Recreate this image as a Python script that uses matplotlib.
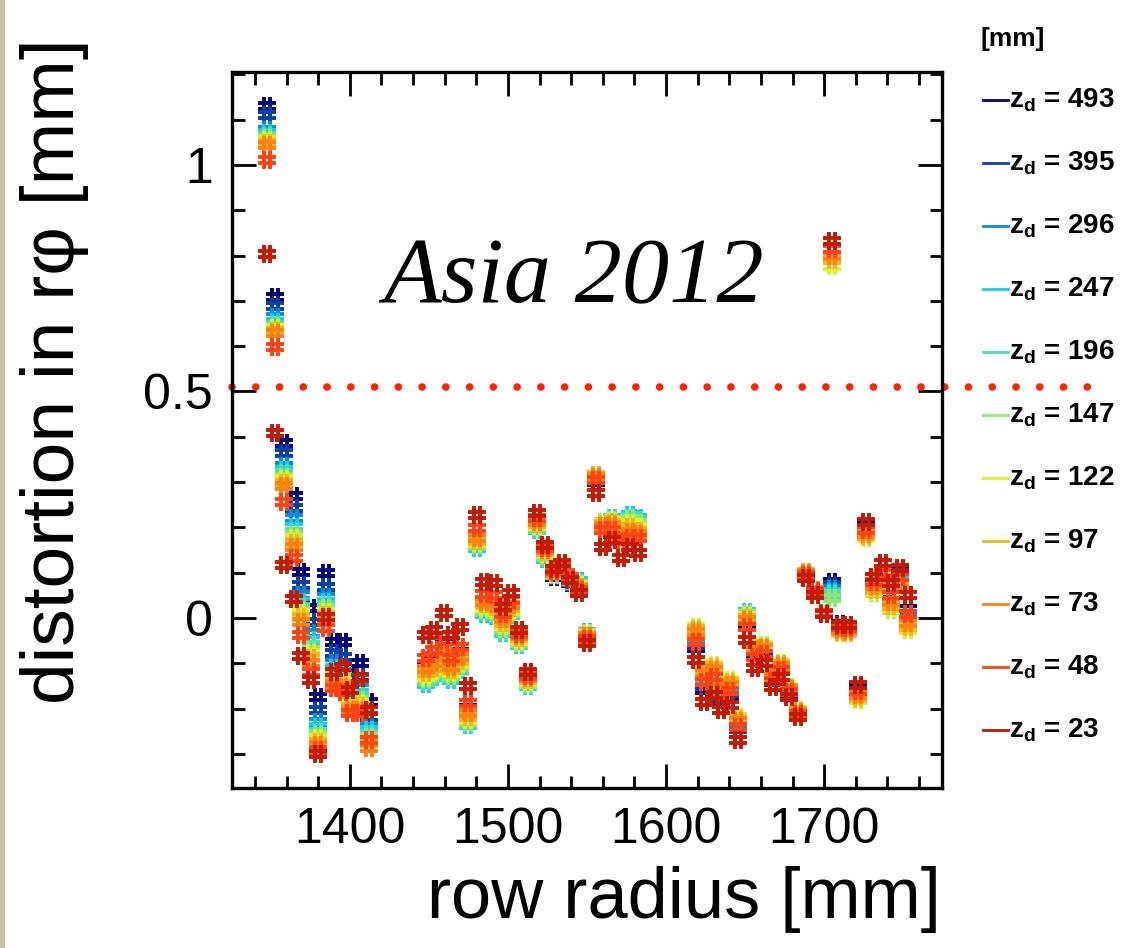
import numpy as np
import matplotlib
matplotlib.use('Agg')
import matplotlib.pyplot as plt
from matplotlib.path import Path
from matplotlib.lines import Line2D
from matplotlib.patches import Rectangle
from matplotlib.ticker import MultipleLocator, FuncFormatter

plt.rcParams['font.family'] = ['Liberation Sans', 'DejaVu Sans']
plt.rcParams['mathtext.fontset'] = 'custom'
plt.rcParams['mathtext.rm'] = 'Liberation Sans'
plt.rcParams['mathtext.bf'] = 'Liberation Sans:bold'
plt.rcParams['mathtext.it'] = 'Liberation Sans:italic'

# pad row radius [mm]
row_radius = [1347.5, 1352.5, 1358.2, 1364.4, 1369.0, 1375.3, 1379.6, 1384.8, 1390.0, 1396.0, 1400.2, 1406.5, 1412.2,
              1448.0, 1453.4, 1459.3, 1463.9, 1469.8, 1475.0, 1480.4, 1485.0, 1491.0, 1496.6, 1502.0, 1507.0, 1512.5,
              1518.4, 1523.4, 1529.0, 1534.0, 1539.5, 1545.0, 1550.0, 1555.7, 1560.0, 1566.0, 1571.5, 1577.0, 1582.5,
              1619.0, 1624.2, 1630.0, 1635.0, 1640.7, 1645.8, 1651.3, 1656.3, 1662.2, 1667.5, 1672.8, 1678.0, 1683.4,
              1688.6, 1693.9, 1699.8, 1704.9, 1709.7, 1715.0, 1721.3, 1726.6, 1731.8, 1737.1, 1742.4, 1747.7, 1753.0]

# distortion in r-phi [mm] for each drift distance z_d
dz493 = [1.130, 0.709, 0.387, 0.269, 0.102, 0.023, -0.174, 0.100, -0.052, -0.052, -0.122, -0.100, -0.185,
         -0.104, -0.090, -0.052, -0.096, -0.074, -0.199, 0.168, 0.030, 0.025, -0.018, 0.018, -0.045, -0.135,
         0.205, 0.140, 0.090, 0.100, 0.078, 0.075, -0.045, 0.300, 0.205, 0.212, 0.185, 0.220, 0.212,
         -0.067, -0.159, -0.150, -0.188, -0.174, -0.255, -0.012, -0.080, -0.075, -0.142, -0.115, -0.165, -0.212,
         0.095, 0.058, 0.012, 0.080, -0.012, -0.020, -0.155, 0.205, 0.065, 0.085, 0.040, 0.108, 0.020]
dz395 = [1.110, 0.689, 0.365, 0.243, 0.073, -0.008, -0.203, 0.069, -0.078, -0.085, -0.144, -0.129, -0.218,
         -0.125, -0.110, -0.070, -0.112, -0.090, -0.215, 0.162, 0.022, 0.018, -0.025, 0.012, -0.052, -0.142,
         0.200, 0.136, 0.092, 0.102, 0.079, 0.078, -0.040, 0.302, 0.208, 0.215, 0.188, 0.224, 0.216,
         -0.060, -0.150, -0.140, -0.178, -0.165, -0.245, -0.005, -0.075, -0.070, -0.138, -0.110, -0.162, -0.210,
         0.097, 0.059, 0.012, 0.072, -0.018, -0.024, -0.160, 0.198, 0.062, 0.080, 0.033, 0.100, 0.010]
dz296 = [1.077, 0.664, 0.336, 0.221, 0.051, -0.033, -0.229, 0.047, -0.100, -0.107, -0.165, -0.155, -0.240,
         -0.140, -0.125, -0.090, -0.128, -0.105, -0.230, 0.157, 0.015, 0.010, -0.030, 0.008, -0.058, -0.148,
         0.196, 0.132, 0.094, 0.104, 0.080, 0.080, -0.034, 0.305, 0.210, 0.218, 0.190, 0.227, 0.220,
         -0.050, -0.140, -0.130, -0.168, -0.157, -0.235, 0.005, -0.070, -0.066, -0.135, -0.106, -0.158, -0.207,
         0.099, 0.060, 0.012, 0.065, -0.024, -0.028, -0.166, 0.192, 0.059, 0.077, 0.027, 0.090, 0.000]
dz247 = [1.070, 0.653, 0.327, 0.202, 0.036, -0.049, -0.240, 0.036, -0.110, -0.118, -0.172, -0.165, -0.248,
         -0.145, -0.130, -0.098, -0.137, -0.115, -0.236, 0.155, 0.010, 0.005, -0.032, 0.006, -0.060, -0.150,
         0.195, 0.130, 0.095, 0.105, 0.081, 0.082, -0.030, 0.308, 0.212, 0.220, 0.191, 0.227, 0.220,
         -0.042, -0.132, -0.122, -0.160, -0.150, -0.228, 0.014, -0.066, -0.063, -0.133, -0.103, -0.155, -0.205,
         0.100, 0.061, 0.012, 0.058, -0.028, -0.031, -0.171, 0.187, 0.057, 0.075, 0.022, 0.082, -0.010]
dz196 = [1.064, 0.647, 0.320, 0.191, 0.025, -0.060, -0.251, 0.029, -0.118, -0.127, -0.178, -0.173, -0.255,
         -0.140, -0.127, -0.095, -0.133, -0.112, -0.233, 0.158, 0.013, 0.008, -0.030, 0.008, -0.058, -0.148,
         0.197, 0.133, 0.096, 0.106, 0.082, 0.078, -0.032, 0.310, 0.213, 0.219, 0.190, 0.224, 0.216,
         -0.035, -0.125, -0.115, -0.153, -0.145, -0.222, 0.012, -0.064, -0.061, -0.131, -0.101, -0.153, -0.204,
         0.101, 0.062, 0.012, 0.052, -0.031, -0.033, -0.176, 0.183, 0.055, 0.074, 0.019, 0.076, -0.018]
dz147 = [1.060, 0.642, 0.312, 0.183, 0.018, -0.071, -0.258, 0.022, -0.125, -0.133, -0.184, -0.180, -0.262,
         -0.135, -0.122, -0.090, -0.128, -0.108, -0.229, 0.162, 0.017, 0.012, -0.025, 0.012, -0.055, -0.145,
         0.200, 0.137, 0.097, 0.107, 0.083, 0.075, -0.034, 0.312, 0.212, 0.217, 0.188, 0.218, 0.210,
         -0.030, -0.118, -0.108, -0.148, -0.140, -0.219, 0.008, -0.063, -0.060, -0.130, -0.100, -0.152, -0.203,
         0.102, 0.063, 0.012, 0.045, -0.033, -0.034, -0.180, 0.179, 0.055, 0.074, 0.018, 0.071, -0.024]
dz122 = [1.055, 0.640, 0.307, 0.176, 0.011, -0.078, -0.265, 0.014, -0.131, -0.139, -0.190, -0.187, -0.268,
         -0.130, -0.117, -0.085, -0.122, -0.102, -0.224, 0.166, 0.022, 0.018, -0.018, 0.016, -0.050, -0.141,
         0.204, 0.141, 0.098, 0.108, 0.084, 0.072, -0.036, 0.314, 0.210, 0.214, 0.185, 0.210, 0.202,
         -0.020, -0.111, -0.104, -0.144, -0.137, -0.218, 0.004, -0.063, -0.060, -0.128, -0.100, -0.152, -0.203,
         0.102, 0.063, 0.012, 0.778, -0.033, -0.034, -0.181, 0.176, 0.057, 0.076, 0.020, 0.069, -0.026]
dz97 = [1.049, 0.634, 0.299, 0.165, 0.002, -0.089, -0.273, 0.007, -0.138, -0.146, -0.197, -0.195, -0.275,
        -0.122, -0.110, -0.078, -0.115, -0.095, -0.218, 0.171, 0.030, 0.025, -0.010, 0.022, -0.045, -0.137,
        0.208, 0.146, 0.099, 0.110, 0.085, 0.069, -0.038, 0.316, 0.207, 0.210, 0.182, 0.200, 0.193,
        -0.024, -0.115, -0.108, -0.148, -0.140, -0.222, 0.000, -0.066, -0.063, -0.128, -0.102, -0.154, -0.205,
        0.101, 0.063, 0.012, 0.790, -0.030, -0.032, -0.177, 0.180, 0.062, 0.080, 0.026, 0.072, -0.020]
dz73 = [1.044, 0.629, 0.291, 0.157, -0.008, -0.100, -0.280, 0.000, -0.145, -0.152, -0.203, -0.203, -0.287,
        -0.112, -0.100, -0.068, -0.107, -0.085, -0.210, 0.176, 0.036, 0.032, -0.002, 0.028, -0.040, -0.133,
        0.212, 0.150, 0.100, 0.112, 0.087, 0.066, -0.040, 0.312, 0.203, 0.205, 0.178, 0.190, 0.185,
        -0.030, -0.122, -0.115, -0.155, -0.147, -0.228, -0.004, -0.070, -0.067, -0.130, -0.105, -0.157, -0.207,
        0.099, 0.062, 0.012, 0.800, -0.026, -0.028, -0.170, 0.186, 0.070, 0.088, 0.035, 0.078, -0.010]
dz48 = [1.011, 0.598, 0.257, 0.132, -0.038, -0.118, -0.291, -0.022, -0.155, -0.163, -0.210, -0.210, -0.270,
        -0.089, -0.071, -0.050, -0.089, -0.063, -0.188, 0.198, 0.054, 0.050, 0.008, 0.040, -0.035, -0.128,
        0.220, 0.155, 0.104, 0.116, 0.090, 0.062, -0.046, 0.305, 0.195, 0.194, 0.170, 0.176, 0.176,
        -0.052, -0.140, -0.130, -0.170, -0.160, -0.240, -0.020, -0.085, -0.080, -0.138, -0.115, -0.163, -0.211,
        0.095, 0.060, 0.011, 0.815, -0.020, -0.022, -0.160, 0.195, 0.080, 0.100, 0.050, 0.090, 0.010]
dz23 = [0.803, 0.408, 0.117, 0.041, -0.084, -0.137, -0.300, 0.003, -0.118, -0.107, -0.159, -0.133, -0.203,
        -0.037, -0.026, 0.012, -0.037, -0.019, -0.150, 0.227, 0.080, 0.078, 0.025, 0.055, -0.026, -0.118,
        0.231, 0.161, 0.108, 0.121, 0.085, 0.055, -0.056, 0.275, 0.157, 0.172, 0.132, 0.157, 0.143,
        -0.093, -0.185, -0.170, -0.203, -0.192, -0.269, -0.049, -0.111, -0.100, -0.152, -0.130, -0.174, -0.218,
        0.088, 0.051, 0.010, 0.833, -0.015, -0.015, -0.148, 0.213, 0.091, 0.121, 0.077, 0.110, 0.051]

zd_values = [493, 395, 296, 247, 196, 147, 122, 97, 73, 48, 23]
series = [dz493, dz395, dz296, dz247, dz196, dz147, dz122, dz97, dz73, dz48, dz23]
colors = ['#00007f', '#0c3fa3', '#0a8ad8', '#1ec8f0', '#44e0b8', '#8ce874',
          '#e0f024', '#f0b41c', '#ff8010', '#ff4212', '#c41a00']

limit = 0.51  # dotted reference level

fig = plt.figure(figsize=(11.43, 9.48), dpi=100)
fig.patches.append(Rectangle((0, 0), 4 / 1143, 1, transform=fig.transFigure,
                             color='#cabfa4', zorder=0))

ax = fig.add_axes([232 / 1143, 1 - 788 / 948, 710 / 1143, 716 / 948])

# hash shaped marker like the ROOT one
hash_marker = Path([(-1, 0.36), (1, 0.36), (-1, -0.36), (1, -0.36),
                    (-0.36, 1), (-0.36, -1), (0.36, 1), (0.36, -1)],
                   [Path.MOVETO, Path.LINETO] * 4)

for vals, col in zip(series, colors):
    ax.plot(row_radius, vals, linestyle='none', marker=hash_marker,
            markersize=12.5, markeredgewidth=2.8, color=col, zorder=3)

ax.plot([0, 1.21], [limit, limit], transform=ax.get_yaxis_transform(),
        clip_on=False, color='#ff2400', linewidth=5.5,
        linestyle=(0, (0.01, 3.1)), dash_capstyle='round', zorder=2)

ax.set_xlim(1325.5, 1774.5)
ax.set_ylim(-0.375, 1.205)
ax.xaxis.set_major_locator(MultipleLocator(100))
ax.xaxis.set_minor_locator(MultipleLocator(20))
ax.yaxis.set_major_locator(MultipleLocator(0.5))
ax.yaxis.set_minor_locator(MultipleLocator(0.1))
ax.yaxis.set_major_formatter(FuncFormatter(lambda v, p: '%g' % v))
ax.tick_params(which='both', direction='in', top=True, right=True,
               width=2, labelsize=36, color='black')
ax.tick_params(which='major', length=17, pad=14)
ax.tick_params(which='minor', length=9)
for s in ax.spines.values():
    s.set_linewidth(2.4)

fig.text(383 / 1143, 1 - 302 / 948, 'Asia 2012', family='Liberation Serif',
         style='italic', fontsize=68, va='baseline')

fig.text(55 / 1143, 1 - 38 / 948, 'distortion in r\u03c6 [mm]', rotation=90,
         ha='center', va='top', fontsize=54)
fig.text(941 / 1143, 1 - 918 / 948, 'row radius [mm]', ha='right',
         va='baseline', fontsize=52)

# legend on the right
fig.text(981 / 1143, 1 - 39 / 948, '[mm]', fontsize=19, fontweight='bold',
         va='center')
for i, (z, col) in enumerate(zip(zd_values, colors)):
    yc = 1 - (100 + 63 * i) / 948
    fig.add_artist(Line2D([983 / 1143, 1008 / 1143], [yc, yc],
                          transform=fig.transFigure, color=col, linewidth=2))
    fig.text(1009 / 1143, yc, r'$\mathbf{z_{d}}$ = %d' % z, fontsize=20,
             fontweight='bold', va='center')

fig.savefig('out.png', dpi=100)
